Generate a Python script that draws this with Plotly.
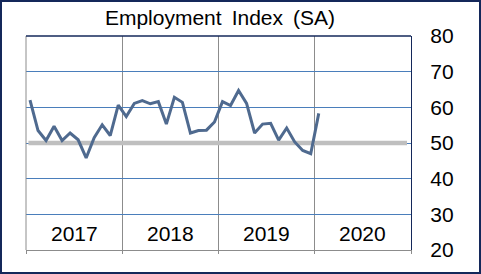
import plotly.graph_objects as go

# Monthly index values, Jan 2017 .. Jan 2020
values = [62.0, 53.5, 50.7, 54.7, 50.7, 52.8, 50.9, 45.8, 51.5, 55.1, 52.1, 60.6,
          57.4, 61.1, 61.9, 61.0, 61.6, 55.3, 62.8, 61.4, 52.8, 53.5, 53.6, 55.9,
          61.6, 60.5, 64.7, 61.1, 52.8, 55.3, 55.5, 50.8, 54.2, 50.3, 47.9, 47.0,
          58.3]
years = ["2017", "2018", "2019", "2020"]
threshold = 50
y_ticks = [20, 30, 40, 50, 60, 70, 80]
title_text = "Employment\u2009 Index\u2009 (SA)"

months_per_year = 12
x_vals = [i + 0.5 for i in range(len(values))]
n_months = months_per_year * len(years)

W, H = 481, 274
L, R, T, B = 26, 70, 36, 24
pw, ph = W - L - R, H - T - B

FONT = "Liberation Sans, Arial, sans-serif"
NAVY = "#14285A"
GRAY = "#8C8C8C"
BLUE = "#4A7EBB"

fig = go.Figure()
fig.add_trace(go.Scatter(x=[0.3, n_months - 0.5], y=[threshold, threshold], mode="lines",
                         line=dict(color="#BFBFBF", width=4.5), hoverinfo="skip", showlegend=False))
fig.add_trace(go.Scatter(x=x_vals, y=values, mode="lines",
                         line=dict(color="#4F6A8F", width=3), showlegend=False))

annotations = []
for k, yr in enumerate(years):
    annotations.append(dict(x=k * months_per_year + months_per_year / 2, y=25, xref="x", yref="y",
                            text=yr, showarrow=False, font=dict(family=FONT, size=21, color="black"),
                            yshift=-1))

shapes = [
    # left gray edge
    dict(type="line", xref="paper", yref="paper", x0=0, x1=0, y0=0, y1=1,
         line=dict(color=GRAY, width=1)),
    # top navy edge
    dict(type="line", xref="paper", yref="paper", x0=0, x1=1, y0=1, y1=1,
         line=dict(color=NAVY, width=1.3)),
    # outer border
    dict(type="rect", xref="paper", yref="paper",
         x0=(1 - L) / pw, x1=(W - 1 - L) / pw, y0=(H - B - (H - 1)) / ph, y1=(H - B - 1) / ph,
         line=dict(color=NAVY, width=2)),
]

fig.update_layout(
    width=W, height=H,
    margin=dict(l=L, r=R, t=T, b=B),
    paper_bgcolor="white", plot_bgcolor="white",
    title=dict(text=title_text, x=(220 - L) / pw, xref="paper", xanchor="center",
               y=1 - 17.5 / H, yanchor="middle",
               font=dict(family=FONT, size=21, color="black")),
    xaxis=dict(range=[0, n_months], tickvals=[k * months_per_year for k in range(len(years) + 1)],
               showticklabels=False, showgrid=True, gridcolor=GRAY, gridwidth=1,
               ticks="outside", ticklen=3, tickcolor=GRAY, tickwidth=1,
               showline=True, linecolor=GRAY, linewidth=1, zeroline=False, fixedrange=True),
    yaxis=dict(range=[20, 80], tickvals=y_ticks, side="right", showgrid=True,
               gridcolor=BLUE, gridwidth=1, ticks="", showline=True, linecolor=NAVY, linewidth=1.3,
               zeroline=False, tickfont=dict(family=FONT, size=21, color="black"),
               ticklabelstandoff=14, fixedrange=True),
    annotations=annotations,
    shapes=shapes,
    showlegend=False,
)

fig.write_html("out.html")
